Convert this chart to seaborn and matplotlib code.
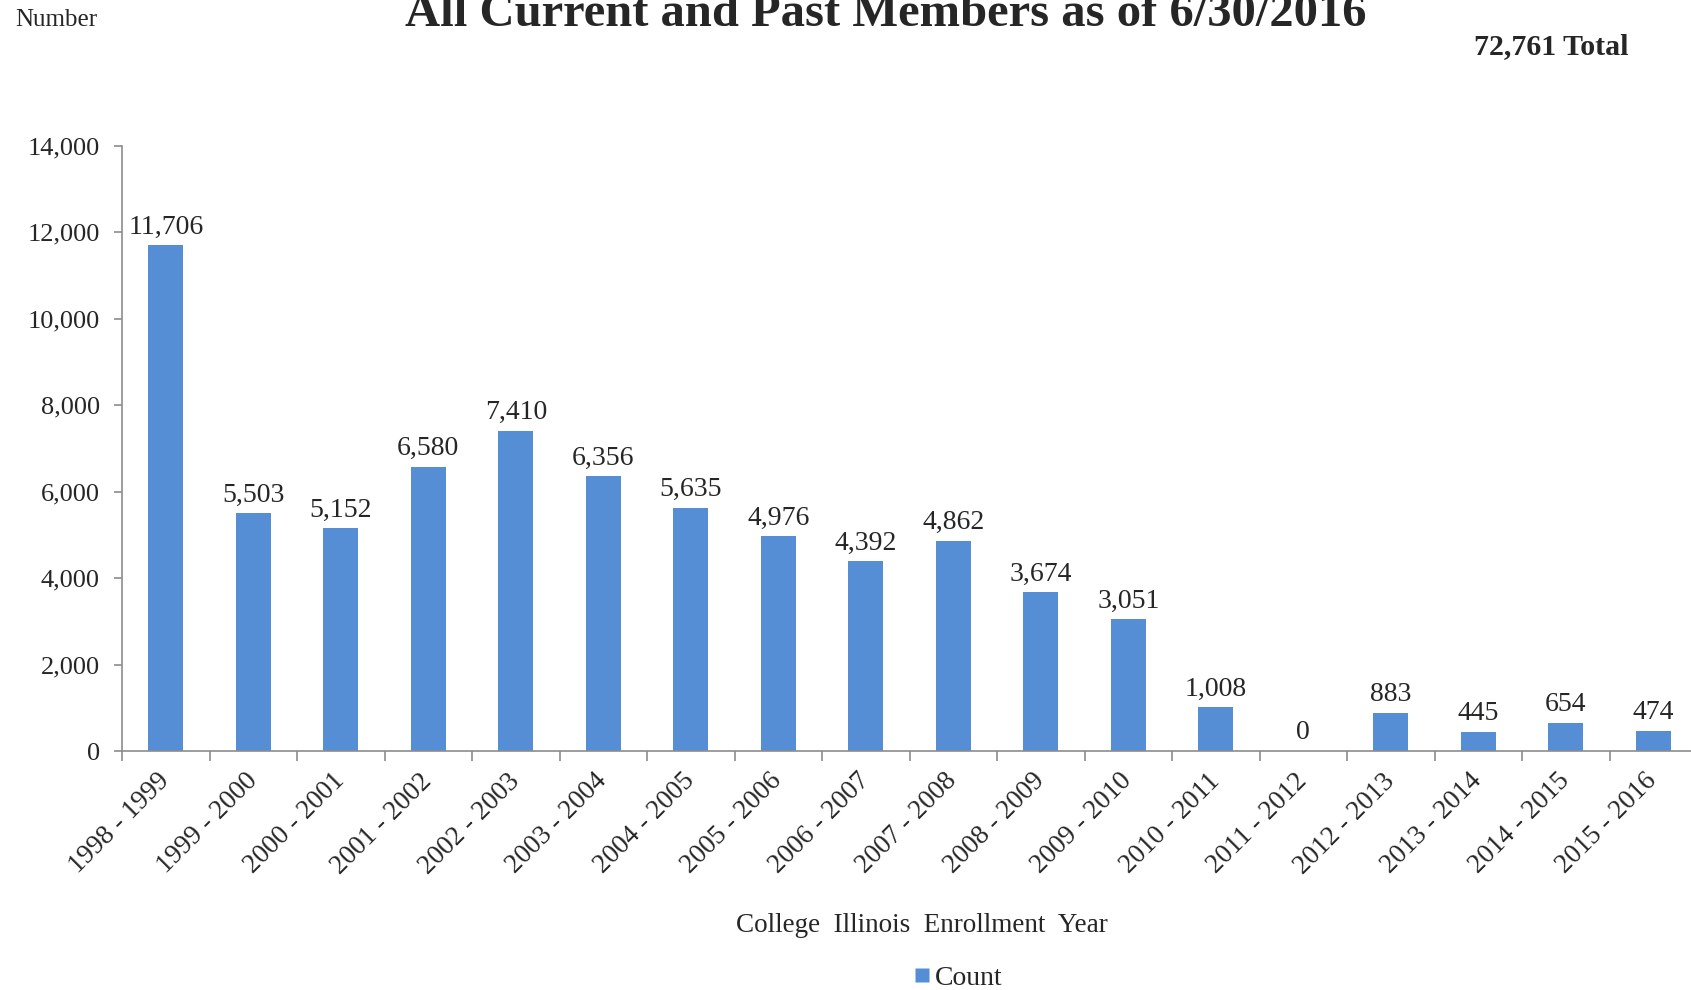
import matplotlib
matplotlib.use("Agg")
import matplotlib.pyplot as plt
import seaborn as sns
import pandas as pd
from matplotlib.ticker import FuncFormatter, FixedLocator
from matplotlib.lines import Line2D

# Enrollment counts by program year
years = ["1998 - 1999", "1999 - 2000", "2000 - 2001", "2001 - 2002", "2002 - 2003",
         "2003 - 2004", "2004 - 2005", "2005 - 2006", "2006 - 2007", "2007 - 2008",
         "2008 - 2009", "2009 - 2010", "2010 - 2011", "2011 - 2012", "2012 - 2013",
         "2013 - 2014", "2014 - 2015", "2015 - 2016"]
counts = [11706, 5503, 5152, 6580, 7410, 6356, 5635, 4976, 4392, 4862,
          3674, 3051, 1008, 0, 883, 445, 654, 474]
y_ticks = [0, 2000, 4000, 6000, 8000, 10000, 12000, 14000]

title = "All Current and Past Members as of 6/30/2016"
total_label = f"{sum(counts):,} Total"

BAR = "#558ED5"
SPINE = "#8C8C8C"

sns.set_style("white")
plt.rcParams["font.family"] = ["Liberation Serif", "DejaVu Serif"]

df = pd.DataFrame({"year": years, "count": counts})

fig = plt.figure(figsize=(16.91, 9.90), dpi=100)
ax = fig.add_axes([0.0722, 0.2414, 0.9314, 0.6111])

sns.barplot(data=df, x="year", y="count", color=BAR, saturation=1,
            width=0.4, ax=ax, edgecolor="none")

ax.set_xlim(-0.5, len(years) - 0.5)
ax.set_ylim(0, 14000)
ax.yaxis.set_major_locator(FixedLocator(y_ticks))
ax.yaxis.set_major_formatter(FuncFormatter(lambda v, p: f"{int(v):,}"))
ax.tick_params(axis="y", direction="out", length=6, width=1.2, color=SPINE,
               labelsize=19, pad=10, left=True)

# category labels without ticks, tick marks on category boundaries
ax.set_xticks(range(len(years)))
ax.set_xticklabels(years, rotation=45, ha="right", va="center",
                   rotation_mode="anchor", fontsize=19.5)
ax.tick_params(axis="x", which="major", length=0, pad=19)
ax.set_xticks([i - 0.5 for i in range(len(years) + 1)], minor=True)
ax.tick_params(axis="x", which="minor", direction="out", length=7, width=1.2,
               color=SPINE, bottom=True)

for side in ["top", "right"]:
    ax.spines[side].set_visible(False)
for side in ["left", "bottom"]:
    ax.spines[side].set_color(SPINE)
    ax.spines[side].set_linewidth(1.2)

ax.set_xlabel("College  Illinois  Enrollment  Year", fontsize=19.5)
ax.xaxis.set_label_coords(0.508, -0.267)
ax.set_ylabel("")
ax.grid(False)

for i, v in enumerate(counts):
    ax.annotate(f"{v:,}", (i, v), xytext=(0, 4), textcoords="offset points",
                ha="center", va="bottom", fontsize=20)

fig.text(0.524, 0.974, title, ha="center", va="baseline",
         fontsize=35, fontweight="bold")
fig.text(0.009, 0.980, "Number", ha="left", va="center", fontsize=18)
fig.text(0.963, 0.953, total_label, ha="right", va="center",
         fontsize=21.5, fontweight="bold")

handle = Line2D([], [], marker="s", linestyle="none", markersize=10,
                markerfacecolor=BAR, markeredgecolor="none")
fig.legend([handle], ["Count"], loc="center", bbox_to_anchor=(0.563, 0.012),
           frameon=False, fontsize=20, handletextpad=-0.3, handlelength=1.5)

fig.savefig("out.png", dpi=100)
